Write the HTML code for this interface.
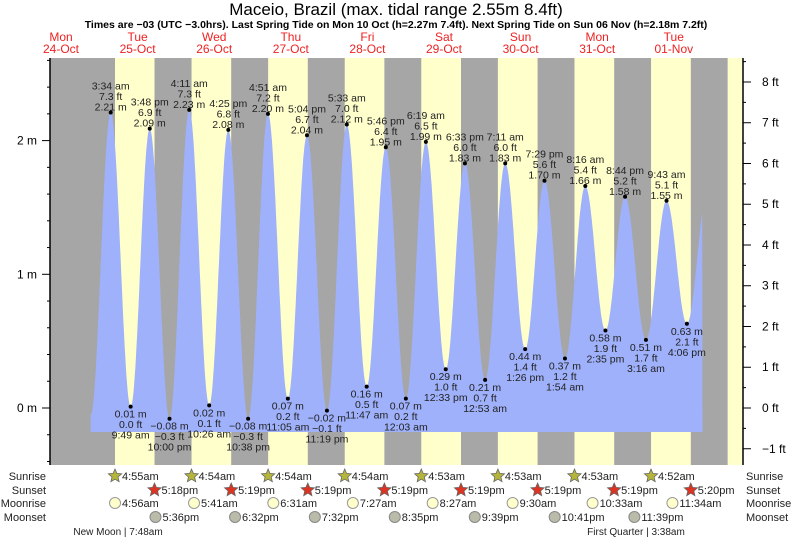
<!DOCTYPE html>
<html><head><meta charset="utf-8"><style>
html,body{margin:0;padding:0;background:#fff}
svg{display:block;font-family:"Liberation Sans",sans-serif}
</style></head><body>
<svg id="c" width="793" height="539" viewBox="0 0 793 539"></svg>
<script>
// ---- data ----
const dayNames = ["Mon","Tue","Wed","Thu","Fri","Sat","Sun","Mon","Tue"];
const dayDates = ["24-Oct","25-Oct","26-Oct","27-Oct","28-Oct","29-Oct","30-Oct","31-Oct","01-Nov"];
// hours relative to Tue 25-Oct 00:00
const tideHours = [-2.7,3.57,9.82,15.8,22.0,28.18,34.43,40.42,46.63,52.85,59.08,65.07,71.32,77.55,83.78,89.77,96.05,102.32,108.55,114.55,120.88,127.18,133.43,139.48,145.9,152.27,158.58,164.73,171.27,177.72,184.1,190.6];
const tideMeters = [-0.05,2.21,0.01,2.09,-0.08,2.23,0.02,2.08,-0.08,2.20,0.07,2.04,-0.02,2.12,0.16,1.95,0.07,1.99,0.29,1.83,0.21,1.83,0.44,1.70,0.37,1.66,0.58,1.58,0.51,1.55,0.63,1.62];
const tideTimes = ["","3:34 am","9:49 am","3:48 pm","10:00 pm","4:11 am","10:26 am","4:25 pm","10:38 pm","4:51 am","11:05 am","5:04 pm","11:19 pm","5:33 am","11:47 am","5:46 pm","12:03 am","6:19 am","12:33 pm","6:33 pm","12:53 am","7:11 am","1:26 pm","7:29 pm","1:54 am","8:16 am","2:35 pm","8:44 pm","3:16 am","9:43 am","4:06 pm",""];
const tideFeet = ["","7.3 ft","0.0 ft","6.9 ft","−0.3 ft","7.3 ft","0.1 ft","6.8 ft","−0.3 ft","7.2 ft","0.2 ft","6.7 ft","−0.1 ft","7.0 ft","0.5 ft","6.4 ft","0.2 ft","6.5 ft","1.0 ft","6.0 ft","0.7 ft","6.0 ft","1.4 ft","5.6 ft","1.2 ft","5.4 ft","1.9 ft","5.2 ft","1.7 ft","5.1 ft","2.1 ft",""];
const sunriseH = [4.92,28.9,52.9,76.9,100.88,124.88,148.88,172.87];
const sunriseT = ["4:55am","4:54am","4:54am","4:54am","4:53am","4:53am","4:53am","4:52am"];
const sunsetH = [17.3,41.32,65.32,89.32,113.32,137.32,161.32,185.33];
const sunsetT = ["5:18pm","5:19pm","5:19pm","5:19pm","5:19pm","5:19pm","5:19pm","5:20pm"];
const nextSunriseH = 196.87;
const moonriseH = [4.93,29.68,54.52,79.45,104.45,129.5,154.55,179.57];
const moonriseT = ["4:56am","5:41am","6:31am","7:27am","8:27am","9:30am","10:33am","11:34am"];
const moonsetH = [17.6,42.53,67.53,92.58,117.65,142.68,167.65];
const moonsetT = ["5:36pm","6:32pm","7:32pm","8:35pm","9:39pm","10:41pm","11:39pm"];
const mTicks = [0,1,2];
const ftTicks = [-1,0,1,2,3,4,5,6,7,8];

// ---- scales ----
const X0=99.3, PXH=76.6/24, L=50, R=743, T=58, B=465;
const x = h => X0 + h*PXH;
const y = m => 408 - m*133.7;
const svg=document.getElementById('c');
const NS='http://www.w3.org/2000/svg';
function mk(tag,attrs,parent){const e=document.createElementNS(NS,tag);for(const k in attrs)e.setAttribute(k,attrs[k]);(parent||svg).appendChild(e);return e;}
function txt(s,xx,yy,opts){const e=mk('text',Object.assign({x:xx,y:yy,'font-size':11,fill:'#000','text-anchor':'middle'},opts||{}));e.textContent=s;return e;}

// background
let bg=mk('rect',{x:L,y:T,width:R-L,height:B-T,fill:'#a6a6a6'});


for(let i=0;i<sunriseH.length;i++){
  const x1=x(sunriseH[i]), x2=Math.min(R,x(sunsetH[i]));
  const r=mk('rect',{x:x1,y:T,width:x2-x1,height:B-T,fill:'#ffffcc'});
  
  
}
{const x1=x(nextSunriseH);
 const r=mk('rect',{x:x1,y:T,width:R-x1,height:B-T,fill:'#ffffcc'});
 
 }
// tide curve
const hStart=-2.7, hEnd=189.0;
let d='';
for(let h=hStart;h<=hEnd;h+=0.2){
  let i=0; while(i<tideHours.length-2 && tideHours[i+1]<h) i++;
  const t=(h-tideHours[i])/(tideHours[i+1]-tideHours[i]);
  const v=tideMeters[i]+(tideMeters[i+1]-tideMeters[i])*(1-Math.cos(Math.PI*Math.min(1,Math.max(0,t))))/2;
  d+=(d?'L':'M')+x(h).toFixed(1)+','+y(v).toFixed(1);
}
d+='L'+x(hEnd).toFixed(1)+',432L'+x(hStart).toFixed(1)+',432Z';
const area=mk('path',{d:d,fill:'#9fb1fb'});


// extremes
for(let i=1;i<tideHours.length-1;i++){
  const px=x(tideHours[i]), py=y(tideMeters[i]);
  const high=tideMeters[i]>1;
  const dot=mk('circle',{cx:px,cy:py,r:2,fill:'#000'});
  
  
  const m=tideMeters[i].toFixed(2).replace('-','−')+' m';
  let lines = high?[tideTimes[i],tideFeet[i],m]:[m,tideFeet[i],tideTimes[i]];
  const base = high?py-23:py+11;
  lines.forEach((s,k)=>{const t=txt(s,px,base+k*10.5,{'font-size':10.5,fill:'#222'});
    
    });
}
// axes
mk('line',{x1:L,y1:T,x2:L,y2:B,stroke:'#000','stroke-width':1.5});
mk('line',{x1:R,y1:T,x2:R,y2:B,stroke:'#000','stroke-width':1.5});
for(let m=-0.4;m<=2.61;m+=0.2){const yy=y(m);const major=Math.abs(m-Math.round(m))<0.01;
  mk('line',{x1:major?L-8:L-3,y1:yy,x2:L,y2:yy,stroke:'#000'});}
mTicks.forEach(m=>{const t=txt(m+' m',37,y(m)+4,{'font-size':12,'text-anchor':'end'});
  
  });
for(let f=-1;f<=8.5;f+=0.5){const yy=y(f*0.3048);const major=Math.abs(f-Math.round(f))<0.01;
  mk('line',{x1:R,y1:yy,x2:major?R+8:R+3,y2:yy,stroke:'#000'});}
ftTicks.forEach(f=>{const t=txt(String(f).replace('-','−')+' ft',762,y(f*0.3048)+4,{'font-size':12,'text-anchor':'start'});
  
  });
// titles
let t1=txt('Maceio, Brazil (max. tidal range 2.55m 8.4ft)',396,15,{'font-size':17});

let t2=txt('Times are −03 (UTC −3.0hrs). Last Spring Tide on Mon 10 Oct (h=2.27m 7.4ft). Next Spring Tide on Sun 06 Nov (h=2.18m 7.2ft)',396,28,{'font-size':10.5,'font-weight':'bold'});

dayNames.forEach((n,i)=>{const cx=x(-12+24*i);
  const a=txt(n,cx,41,{'font-size':12,fill:'#ee2222'});
  
  const b=txt(dayDates[i],cx,53,{'font-size':12,fill:'#ee2222'});
  });
// bottom rows
const rows=[['Sunrise',480],['Sunset',494],['Moonrise',507],['Moonset',521]];
rows.forEach(r=>{
  const a=txt(r[0],46,r[1],{'font-size':11,'text-anchor':'end',fill:'#222'});
  
  const b=txt(r[0],746,r[1],{'font-size':11,'text-anchor':'start',fill:'#222'});
  });
function star(cx,cy,fill){let p='';for(let k=0;k<10;k++){const a=-Math.PI/2+k*Math.PI/5;const rr=k%2?3.2:7;p+=(cx+rr*Math.cos(a)).toFixed(1)+','+(cy+rr*Math.sin(a)).toFixed(1)+' ';}
  return mk('polygon',{points:p,fill:fill,stroke:'#666','stroke-width':0.8});}
sunriseH.forEach((h,i)=>{const s=star(x(h),476,'#b5b53a');
  const t=txt(sunriseT[i],x(h)+7,480,{'font-size':11,'text-anchor':'start',fill:'#222'});});
sunsetH.forEach((h,i)=>{const s=star(x(h),490,'#dd3322');
  const t=txt(sunsetT[i],x(h)+7,494,{'font-size':11,'text-anchor':'start',fill:'#222'});});
moonriseH.forEach((h,i)=>{const c=mk('circle',{cx:x(h),cy:503,r:5.5,fill:'#ffffcc',stroke:'#999'});
  const t=txt(moonriseT[i],x(h)+7,507,{'font-size':11,'text-anchor':'start',fill:'#222'});});
moonsetH.forEach((h,i)=>{const c=mk('circle',{cx:x(h),cy:517,r:5.5,fill:'#bbbbaa',stroke:'#888'});
  const t=txt(moonsetT[i],x(h)+7,521,{'font-size':11,'text-anchor':'start',fill:'#222'});});
let p1=txt('New Moon | 7:48am',118,535,{'font-size':10,fill:'#222'});

let p2=txt('First Quarter | 3:38am',636,535,{'font-size':10,fill:'#222'});

</script>
</body></html>
